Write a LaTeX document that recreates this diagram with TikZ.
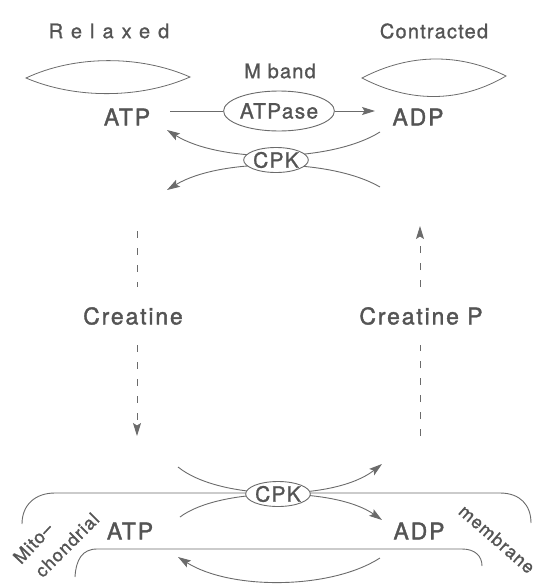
\documentclass[tikz,border=0pt]{standalone}
\usepackage{fontspec}
\setmainfont{TeX Gyre Heros}
\newfontfamily\lblfont[LetterSpace=8,FakeBold=1.6]{TeX Gyre Heros}
\newfontfamily\smlfont[LetterSpace=6,FakeBold=1.1]{TeX Gyre Heros}
\newfontfamily\widefont[LetterSpace=40,FakeBold=1.1]{TeX Gyre Heros}
\usetikzlibrary{arrows.meta,shapes.geometric,backgrounds}
\definecolor{ink}{gray}{0.33}
\definecolor{wire}{gray}{0.42}
\begin{document}
\begin{tikzpicture}[x=1pt,y=-1pt,
  lbl/.style={text=ink, inner sep=0pt, font=\lblfont\fontsize{23}{26}\selectfont},
  sml/.style={text=ink, inner sep=0pt, font=\smlfont\fontsize{20}{22}\selectfont},
  enz/.style={ellipse, draw=wire, line width=0.9pt, fill=white, text=ink, inner sep=0pt,
              font=\smlfont\fontsize{21}{23}\selectfont},
  ln/.style={draw=wire, line width=0.9pt},
  tip/.style={-{Stealth[length=13pt,width=8pt,inset=2.5pt]}},
  dsh/.style={ln, dash pattern=on 7pt off 10pt},
  lens/.style={draw=wire, line width=0.8pt},
  side/.style={text=ink, inner sep=0pt, font=\smlfont\fontsize{18}{20}\selectfont}]
\useasboundingbox (0,0) rectangle (536,584);

% labels
\node[sml, font=\widefont\fontsize{20}{22}\selectfont] (relaxed) at (109,31) {Relaxed};
\node[sml] (contracted) at (434,31) {Contracted};
\node[sml] (mband) at (280,71) {M band};
\node[lbl] (atpA) at (127,117) {ATP};
\node[lbl] (adpA) at (418,117) {ADP};
\node[enz, minimum width=88pt, minimum height=40pt] (atpase) at (279,111) {ATPase};
\node[enz, minimum width=62pt, minimum height=25pt] (cpkA) at (276,160) {CPK};
\node[lbl, inner ysep=20pt] (creatine) at (133,316) {Creatine};
\node[lbl, inner ysep=20pt] (creatineP) at (421,316) {Creatine P};
\node[enz, minimum width=59pt, minimum height=25pt] (cpkB) at (278,494) {CPK};
\node[lbl] (atpB) at (130,531) {ATP};
\node[lbl] (adpB) at (419,531) {ADP};
\node[side, rotate=47] (mito) at (33,543) {Mito–};
\node[side, rotate=45] (chondrial) at (67,545) {chondrial};
\node[side, rotate=-41] (membrane) at (497,539) {membrane};

% coordinates for free ends
\coordinate (aS) at (170,111);
\coordinate (aE) at (375,111);
\coordinate (tr) at (380,132);
\coordinate (brr) at (380,187);
\coordinate (tl) at (167,130);
\coordinate (bl) at (167,190);
\coordinate (lt) at (137,231);
\coordinate (lb) at (137,436);
\coordinate (rt) at (420,226);
\coordinate (rb) at (420,436);
\coordinate (bul) at (178,467);
\coordinate (bur) at (382,464);
\coordinate (bll) at (180,517);
\coordinate (blr) at (382,520);
\coordinate (rr) at (380,558);
\coordinate (ll) at (178,557);

\begin{pgfonlayer}{background}
% sarcomere lenses
\draw[lens] (26,78) .. controls (75,55) and (140,55) .. (190,77)
            .. controls (140,99) and (75,99) .. cycle;
\draw[lens] (362,78) .. controls (410,53) and (460,53) .. (506,76)
            .. controls (460,103) and (410,103) .. cycle;
% ATPase reaction
\draw[ln] (aS) -- (atpase);
\draw[ln,tip] (atpase) -- (aE);
% top CPK crossing
\draw[ln,tip] (tr) .. controls (330,163) and (220,163) .. (tl);
\draw[ln,tip] (brr) .. controls (330,158) and (220,158) .. (bl);
% shuttle
\draw[dsh] (lt) -- (lt |- creatine.north);
\draw[dsh,tip] (lt |- creatine.south) -- (lb);
\draw[dsh] (rb) -- (rb |- creatineP.south);
\draw[dsh,tip] (rb |- creatineP.north) -- (rt);
% mitochondrial membrane
\draw[ln] (22,524) .. controls (22,505) and (35,493) .. (55,493) -- (500,493)
          .. controls (520,493) and (531,505) .. (531,523);
\draw[ln] (75,577) .. controls (76,560) and (82,549) .. (97,549) -- (462,549)
          .. controls (475,549) and (482,556) .. (482,566);
% bottom CPK crossing
\draw[ln,tip] (bul) .. controls (220,501) and (335,501) .. (bur);
\draw[ln,tip] (bll) .. controls (220,487) and (335,487) .. (blr);
% return arrow
\draw[ln,tip] (rr) .. controls (330,590) and (230,590) .. (ll);
\end{pgfonlayer}
\end{tikzpicture}
\end{document}
